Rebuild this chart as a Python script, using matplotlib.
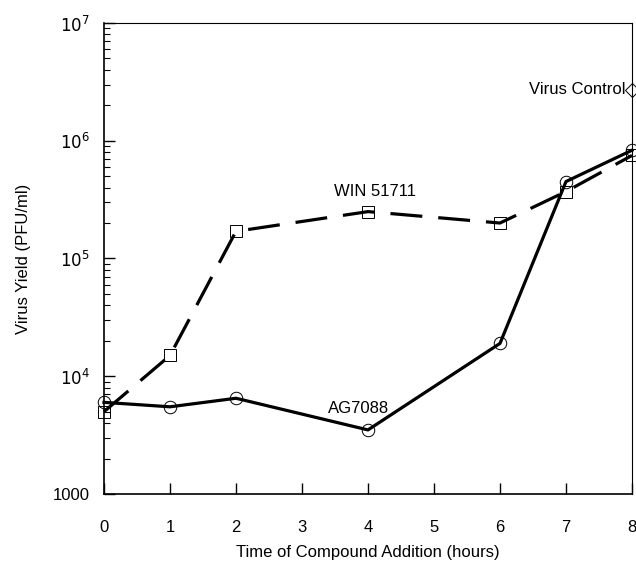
import matplotlib.pyplot as plt
from matplotlib.ticker import LogLocator, NullFormatter

plt.rcParams['font.family'] = ['Liberation Sans', 'DejaVu Sans']

# time of compound addition (hours)
hours = [0, 1, 2, 4, 6, 7, 8]
ag7088 = [6000, 5500, 6500, 3500, 19000, 450000, 830000]
win51711 = [5000, 15000, 170000, 250000, 200000, 370000, 750000]
vc_hour = [8]
vc_yield = [2.7e6]

fig = plt.figure(figsize=(6.36, 5.74), dpi=100)
ax = fig.add_axes([0.1635, 0.1394, 0.8302, 0.8206])

ax.plot(hours, win51711, color='black', lw=2.3, dashes=(10, 5),
        marker='s', ms=9, mfc='none', mec='black', mew=0.7, clip_on=False)
ax.plot(hours, ag7088, color='black', lw=2.3,
        marker='o', ms=9, mfc='none', mec='black', mew=0.7, clip_on=False)
ax.plot(vc_hour, vc_yield, ls='none', marker='D', ms=7, mfc='none',
        mec='black', mew=0.7, clip_on=False)

ax.set_yscale('log')
ax.set_ylim(1000, 1e7)
ax.set_xlim(0, 8)

ax.set_xticks(range(9))
ax.set_yticks([1000, 1e4, 1e5, 1e6, 1e7])
ax.set_yticklabels(['1000', r'$10^4$', r'$10^5$', r'$10^6$', r'$10^7$'])
ax.yaxis.set_minor_locator(LogLocator(base=10, subs=range(2, 10)))
ax.yaxis.set_minor_formatter(NullFormatter())

ax.tick_params(axis='both', which='major', direction='in', length=8, width=1,
               labelsize=12)
ax.tick_params(axis='x', which='major', pad=19)
ax.tick_params(axis='y', which='major', pad=10)
ax.tick_params(axis='y', which='minor', direction='in', length=4, width=0.8)
ax.tick_params(axis='x', which='minor', length=0)

for s in ['top', 'right']:
    ax.spines[s].set_linewidth(0.8)
for s in ['left', 'bottom']:
    ax.spines[s].set_linewidth(1.2)

ax.text(4.1, 3.2e5, 'WIN 51711', ha='center', va='bottom', fontsize=12)
ax.text(3.85, 4.6e3, 'AG7088', ha='center', va='bottom', fontsize=12)
ax.text(7.9, 2.7e6, 'Virus Control', ha='right', va='center', fontsize=12)

ax.set_xlabel('Time of Compound Addition (hours)', fontsize=12, labelpad=7)
ax.set_ylabel('Virus Yield (PFU/ml)', fontsize=12, labelpad=16)

fig.savefig('out.png', dpi=100)
